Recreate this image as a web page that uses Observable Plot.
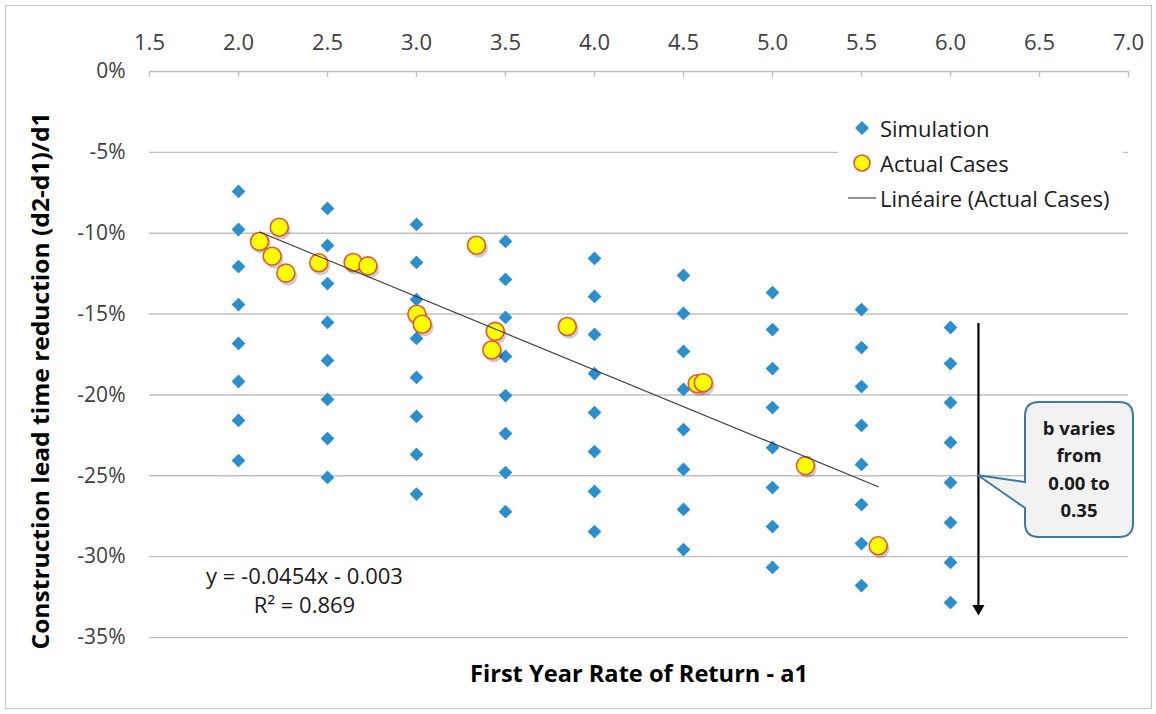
<!DOCTYPE html>
<html><head><meta charset="utf-8">
<script src="https://cdn.jsdelivr.net/npm/d3@7"></script>
<script src="https://cdn.jsdelivr.net/npm/@observablehq/plot@0.6"></script>
<style>
body{margin:0;background:#fff;}
#wrap{position:relative;width:1156px;height:714px;font-family:"Open Sans",sans-serif;overflow:hidden}
#frame{position:absolute;left:5px;top:5px;width:1145px;height:702px;border:1px solid #c4c4c4;pointer-events:none}
#legend{position:absolute;left:838px;top:112px;width:285px;height:104px;background:#fff;font-size:22px;color:#1a1a1a}
#legend .row{position:absolute;left:0;height:32px;line-height:32px;white-space:nowrap}
#legend svg{position:absolute;left:0;top:0}
#legend span{position:absolute;left:42px;top:0}
</style></head>
<body>
<div id="wrap"><div id="frame"></div></div>
<script>
// ---- data ----
const bValues = [0.00, 0.05, 0.10, 0.15, 0.20, 0.25, 0.30, 0.35];
const simA1 = [2.0, 2.5, 3.0, 3.5, 4.0, 4.5, 5.0, 5.5, 6.0];
const simAt20 = [-0.0742, -0.0977, -0.1206, -0.1441, -0.1682, -0.1917, -0.2158, -0.2406];
const simAt25 = [-0.0847, -0.1076, -0.1311, -0.1552, -0.1787, -0.2028, -0.2270, -0.2510];
const simAt30 = [-0.0946, -0.1181, -0.1410, -0.1651, -0.1892, -0.2133, -0.2368, -0.2613];
const simAt35 = [-0.1051, -0.1286, -0.1521, -0.1762, -0.2004, -0.2239, -0.2480, -0.2722];
const simAt40 = [-0.1156, -0.1391, -0.1626, -0.1868, -0.2109, -0.2350, -0.2597, -0.2845];
const simAt45 = [-0.1261, -0.1496, -0.1731, -0.1966, -0.2214, -0.2461, -0.2708, -0.2956];
const simAt50 = [-0.1367, -0.1596, -0.1837, -0.2078, -0.2326, -0.2573, -0.2814, -0.3067];
const simAt55 = [-0.1472, -0.1707, -0.1948, -0.2189, -0.2430, -0.2678, -0.2919, -0.3179];
const simAt60 = [-0.1583, -0.1806, -0.2047, -0.2294, -0.2542, -0.2789, -0.3036, -0.3284];
const simColumns = [simAt20, simAt25, simAt30, simAt35, simAt40, simAt45, simAt50, simAt55, simAt60];

const actualA1 = [2.118, 2.229, 2.189, 2.266, 2.451, 2.644, 2.727, 3.337, 3.002, 3.032, 3.442, 3.423, 3.847, 4.577, 4.611, 5.185, 5.594];
const actualReduction = [-0.1051, -0.0963, -0.1142, -0.1247, -0.1183, -0.1181, -0.1202, -0.1074, -0.1501, -0.1563, -0.1607, -0.1722, -0.1577, -0.1931, -0.1925, -0.2437, -0.2933];

const xTicks = [1.5, 2.0, 2.5, 3.0, 3.5, 4.0, 4.5, 5.0, 5.5, 6.0, 6.5, 7.0];
const yTicks = [0, -0.05, -0.10, -0.15, -0.20, -0.25, -0.30, -0.35];

const legendLabels = ["Simulation", "Actual Cases", "Linéaire (Actual Cases)"];
const equationLines = ["y = -0.0454x - 0.003", "R² = 0.869"];
const xTitle = "First Year Rate of Return - a1";
const yTitle = "Construction lead time reduction (d2-d1)/d1";
const calloutLines = ["b varies", "from", "0.00 to", "0.35"];
// annotation arrow: range of b, drawn just right of the a1 = 6.0 column
const arrowA1 = [6.157];
const arrowFrom = [-0.1558];
const arrowTo = [-0.3320];
const calloutAt = [-0.25];

// ---- build tables ----
const sim = [];
simA1.forEach((a, i) => simColumns[i].forEach((v, j) => sim.push({a1: a, b: bValues[j], y: v})));
const actual = actualA1.map((a, i) => ({a1: a, y: actualReduction[i]}));

const fmtPct = d => `${Math.round(d * 100)}%`;
const blue = "#2a8fcc";

const plot = Plot.plot({
  width: 1156, height: 714,
  marginLeft: 149, marginRight: 28, marginTop: 71, marginBottom: 77,
  style: {fontFamily: "Open Sans, sans-serif", fontSize: "22px", color: "#404040", background: "transparent"},
  x: {domain: [1.5, 7.0]},
  y: {domain: [-0.35, 0]},
  marks: [
    Plot.ruleY(yTicks.filter(d => d !== 0), {stroke: "#c0c0c0", strokeWidth: 1.4}),
    Plot.ruleY([0], {stroke: "#c0c0c0", strokeWidth: 1.4}),
    Plot.tickX(xTicks, {x: d => d, stroke: "#c0c0c0", strokeWidth: 1.4, insetBottom: 560}),
    Plot.axisY(yTicks, {tickSize: 0, tickPadding: 24, tickFormat: fmtPct, label: null, fill: "#404040", fontSize: 21}),
    Plot.axisX(xTicks, {anchor: "top", tickSize: 0, tickPadding: 22, tickFormat: d => d.toFixed(1), label: null, fill: "#404040", fontSize: 22}),
    Plot.dot(sim, {x: "a1", y: "y", symbol: "diamond2", r: 6.2, fill: blue, stroke: "none"}),
    Plot.dot(actual, {x: "a1", y: "y", r: 9.3, fill: "#000", fillOpacity: 0.2, stroke: "none", dx: 2, dy: 3}),
    Plot.dot(actual, {x: "a1", y: "y", r: 9, fill: "#ffff00", stroke: "#e2553a", strokeWidth: 1.6}),
    Plot.linearRegressionY(actual, {x: "a1", y: "y", ci: 0, stroke: "#3a3a3a", strokeWidth: 1.1}),
    Plot.ruleX(arrowA1, {x: d => d, y1: arrowFrom[0], y2: arrowTo[0], stroke: "#000", strokeWidth: 2.2}),
    Plot.dot(arrowA1, {x: d => d, y: arrowTo[0], symbol: "triangle2", rotate: 180, r: 5.8, fill: "#000", stroke: "none"}),
    Plot.text([equationLines[0]], {frameAnchor: "bottom-left", dx: 155, dy: -54, textAnchor: "middle", fontSize: 22, fill: "#1a1a1a"}),
    Plot.text([equationLines[1]], {frameAnchor: "bottom-left", dx: 155, dy: -25, textAnchor: "middle", fontSize: 22, fill: "#1a1a1a"})
  ]
});

const wrap = document.getElementById("wrap");
plot.style.position = "absolute";
plot.style.left = "0px";
plot.style.top = "0px";
wrap.appendChild(plot);

const svg = d3.select(plot);

// axis titles
svg.append("text")
  .attr("x", 639).attr("y", 676)
  .attr("text-anchor", "middle").attr("dominant-baseline", "middle")
  .attr("font-family", "Open Sans, sans-serif").attr("font-size", 23.5).attr("font-weight", "bold")
  .attr("fill", "#000").attr("textLength", 338).attr("lengthAdjust", "spacingAndGlyphs")
  .text(xTitle);
svg.append("text")
  .attr("transform", "translate(43,381) rotate(-90)")
  .attr("text-anchor", "middle").attr("dominant-baseline", "middle")
  .attr("font-family", "Open Sans, sans-serif").attr("font-size", 24).attr("font-weight", "bold")
  .attr("fill", "#000").attr("textLength", 537).attr("lengthAdjust", "spacingAndGlyphs")
  .text(yTitle);

// callout box attached to arrow
const sx = plot.scale("x"), sy = plot.scale("y");
const tx = sx.apply(arrowA1[0]), ty = sy.apply(calloutAt[0]);
const L = 1025, T = 402, R = 1133, B = 537, rr = 14, p1 = 482, p2 = 508;
const g = svg.append("g");
g.append("path")
  .attr("d", `M${L+rr},${T}H${R-rr}Q${R},${T} ${R},${T+rr}V${B-rr}Q${R},${B} ${R-rr},${B}H${L+rr}Q${L},${B} ${L},${B-rr}V${p2}L${tx},${ty}L${L},${p1}V${T+rr}Q${L},${T} ${L+rr},${T}Z`)
  .attr("fill", "#f2f2f2").attr("stroke", "#3b7aa6").attr("stroke-width", 2);
calloutLines.forEach((t, i) => {
  g.append("text").attr("x", (L + R) / 2).attr("y", 430 + i * 27.5)
    .attr("text-anchor", "middle").attr("dominant-baseline", "middle")
    .attr("font-family", "Open Sans, sans-serif").attr("font-size", 18.5).attr("font-weight", "bold")
    .attr("fill", "#1a1a1a").text(t);
});

// legend
const leg = document.createElement("div");
leg.id = "legend";
const rows = [
  `<svg width="40" height="32"><path d="M24,9 L31,16 L24,23 L17,16Z" fill="${blue}"/></svg>`,
  `<svg width="40" height="32"><circle cx="24" cy="16" r="8" fill="#ffff00" stroke="#e2553a" stroke-width="1.6"/></svg>`,
  `<svg width="40" height="32"><line x1="10" x2="38" y1="16" y2="16" stroke="#3a3a3a" stroke-width="1.1"/></svg>`
];
legendLabels.forEach((lab, i) => {
  const r = document.createElement("div");
  r.className = "row";
  r.style.top = (i * 35) + "px";
  r.innerHTML = rows[i] + `<span>${lab}</span>`;
  leg.appendChild(r);
});
wrap.appendChild(leg);
</script>
</body></html>
